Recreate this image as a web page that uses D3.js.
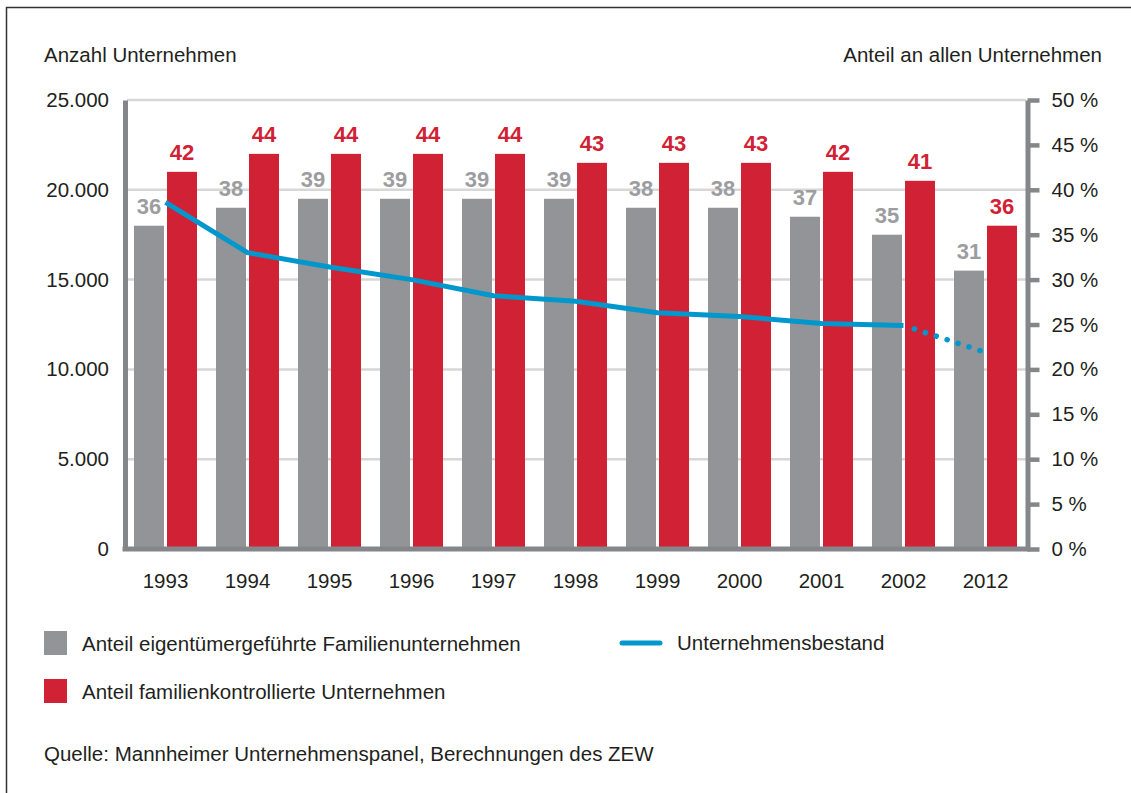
<!DOCTYPE html>
<html>
<head>
<meta charset="utf-8">
<script src="https://cdn.jsdelivr.net/npm/d3@7"></script>
<style>
  body { margin: 0; background: #fff; }
  svg text { font-family: "Liberation Sans", Arial, sans-serif; fill: #231f20; }
</style>
</head>
<body>
<div id="chart"></div>
<script>
// data
var years = ['1993','1994','1995','1996','1997','1998','1999','2000','2001','2002','2012'];
var anteilEigen = [36, 38, 39, 39, 39, 39, 38, 38, 37, 35, 31];   // % grey bars
var anteilKontr = [42, 44, 44, 44, 44, 43, 43, 43, 42, 41, 36];   // % red bars
var bestand = [19300, 16500, 15700, 15000, 14100, 13800, 13150, 12950, 12550, 12450, 10950];
var leftTicks = [0, 5000, 10000, 15000, 20000, 25000];
var rightTicks = [0, 5, 10, 15, 20, 25, 30, 35, 40, 45, 50];

var grey = '#939498', red = '#d12134', blue = '#0098cc', axisGrey = '#858689';

var svg = d3.select('#chart').append('svg').attr('width', 1131).attr('height', 793);
svg.append('rect').attr('width', 1131).attr('height', 793).attr('fill', '#fff');
svg.append('path').attr('d', 'M6.5,793V7.5H1131').attr('fill', 'none').attr('stroke', '#333').attr('stroke-width', 1.5);

var x = d3.scaleBand().domain(years).range([124.5, 1026.5]);
var x1 = d3.scaleBand().domain(['g', 'r']).range([9.5, 72.5]).paddingInner(1 / 11);
var yL = d3.scaleLinear().domain([0, 25000]).range([549, 100]);
var yR = d3.scaleLinear().domain([0, 50]).range([549, 100]);

var de = d3.formatLocale({decimal: ',', thousands: '.', grouping: [3], currency: ['', '€']});
var fmt = de.format(',');

// gridlines
svg.append('g').selectAll('line').data(leftTicks.slice(1)).join('line')
  .attr('x1', 127).attr('x2', 1026).attr('y1', d => yL(d)).attr('y2', d => yL(d))
  .attr('stroke', '#d7d7d8').attr('stroke-width', 2.5);

// bars
var g = svg.append('g');
g.selectAll('rect.g').data(years).join('rect').attr('class', 'g')
  .attr('x', (d, i) => x(d) + x1('g')).attr('width', x1.bandwidth())
  .attr('y', (d, i) => yR(anteilEigen[i])).attr('height', (d, i) => yR(0) - yR(anteilEigen[i]))
  .attr('fill', grey);
g.selectAll('rect.r').data(years).join('rect').attr('class', 'r')
  .attr('x', (d, i) => x(d) + x1('r')).attr('width', x1.bandwidth())
  .attr('y', (d, i) => yR(anteilKontr[i])).attr('height', (d, i) => yR(0) - yR(anteilKontr[i]))
  .attr('fill', red);

// bar labels
g.selectAll('text.g').data(years).join('text').attr('class', 'g')
  .attr('x', (d, i) => x(d) + x1('g') + x1.bandwidth() / 2).attr('y', (d, i) => yR(anteilEigen[i]) - 12)
  .attr('text-anchor', 'middle').style('font-size', '22px').style('font-weight', 'bold').style('fill', '#9c9da0')
  .text((d, i) => anteilEigen[i]);
g.selectAll('text.r').data(years).join('text').attr('class', 'r')
  .attr('x', (d, i) => x(d) + x1('r') + x1.bandwidth() / 2).attr('y', (d, i) => yR(anteilKontr[i]) - 12)
  .attr('text-anchor', 'middle').style('font-size', '22px').style('font-weight', 'bold').style('fill', red)
  .text((d, i) => anteilKontr[i]);

// axes
function styleAxis(sel) {
  sel.select('.domain').attr('stroke', axisGrey).attr('stroke-width', 5);
  sel.selectAll('.tick line').attr('stroke', axisGrey).attr('stroke-width', 4.5);
  sel.selectAll('.tick text').style('font-size', '20.5px').style('fill', '#231f20').attr('font-family', null);
}
svg.append('g').attr('transform', 'translate(125,0)')
  .call(d3.axisLeft(yL).tickValues(leftTicks).tickSize(0).tickSizeOuter(0).tickPadding(16).tickFormat(fmt))
  .call(styleAxis);
svg.append('g').attr('transform', 'translate(1027.5,0)')
  .call(d3.axisRight(yR).tickValues(rightTicks).tickSize(12).tickSizeOuter(0).tickPadding(12).tickFormat(d => d + ' %'))
  .call(styleAxis);
svg.append('g').attr('transform', 'translate(0,549)')
  .call(d3.axisBottom(x).tickSize(0).tickSizeOuter(0).tickPadding(24))
  .call(styleAxis)
  .select('.domain').attr('d', 'M122.5,0H1030');

// line
var pts = years.map((d, i) => [x(d) + x.bandwidth() / 2, yL(bestand[i])]);
var line = d3.line();
svg.append('path').attr('d', line(pts.slice(0, 10))).attr('fill', 'none')
  .attr('stroke', blue).attr('stroke-width', 5).attr('stroke-linejoin', 'round');
svg.append('path').attr('d', line(pts.slice(9))).attr('fill', 'none')
  .attr('stroke', blue).attr('stroke-width', 5.5).attr('stroke-linecap', 'round')
  .attr('stroke-dasharray', '0.1,11.4').attr('stroke-dashoffset', -11.4);

// titles
svg.append('text').attr('x', 44).attr('y', 62).style('font-size', '20.5px').text('Anzahl Unternehmen');
svg.append('text').attr('x', 1102).attr('y', 62).attr('text-anchor', 'end').style('font-size', '20.5px').text('Anteil an allen Unternehmen');

// legend
svg.append('rect').attr('x', 44).attr('y', 631).attr('width', 23).attr('height', 24).attr('fill', grey);
svg.append('text').attr('x', 82).attr('y', 651).style('font-size', '20.5px').text('Anteil eigentümergeführte Familienunternehmen');
svg.append('rect').attr('x', 44).attr('y', 679).attr('width', 23).attr('height', 24).attr('fill', red);
svg.append('text').attr('x', 82).attr('y', 699).style('font-size', '20.5px').text('Anteil familienkontrollierte Unternehmen');
svg.append('line').attr('x1', 622).attr('x2', 660).attr('y1', 643).attr('y2', 643)
  .attr('stroke', blue).attr('stroke-width', 5).attr('stroke-linecap', 'round');
svg.append('text').attr('x', 677).attr('y', 650).style('font-size', '20.5px').text('Unternehmensbestand');

svg.append('text').attr('x', 44).attr('y', 761).style('font-size', '20.5px').text('Quelle: Mannheimer Unternehmenspanel, Berechnungen des ZEW');
</script>
</body>
</html>
